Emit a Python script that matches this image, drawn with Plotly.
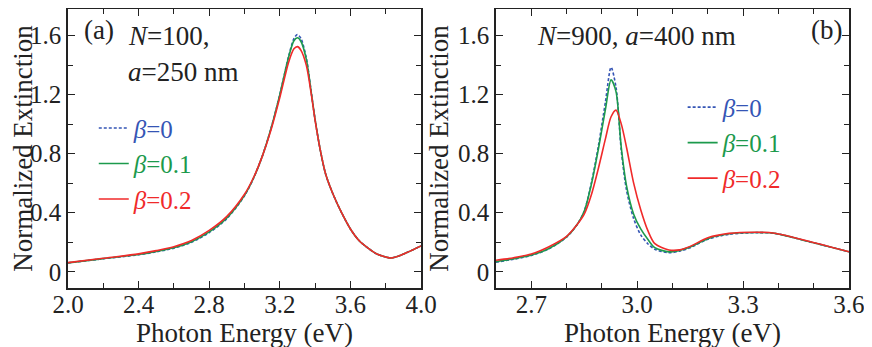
import plotly.graph_objects as go

# ---- panel (a): N=100, a=250 nm ----
xa = [2.0, 2.2, 2.4, 2.5, 2.6, 2.7, 2.8, 2.9, 3.0, 3.05, 3.1, 3.15, 3.2, 3.25, 3.28, 3.3,
      3.32, 3.35, 3.38, 3.4, 3.43, 3.46, 3.5, 3.55, 3.6, 3.65, 3.7, 3.75, 3.8, 3.83, 3.87, 3.92, 4.0]
a_b0 = [0.06, 0.088, 0.115, 0.135, 0.16, 0.2, 0.265, 0.36, 0.515, 0.63, 0.78, 0.97, 1.2, 1.46, 1.58, 1.607,
        1.58, 1.45, 1.2, 1.03, 0.82, 0.66, 0.53, 0.4, 0.29, 0.21, 0.16, 0.12, 0.1, 0.093, 0.105, 0.13, 0.175]
a_b1 = [0.06, 0.089, 0.117, 0.138, 0.163, 0.204, 0.27, 0.365, 0.518, 0.632, 0.78, 0.97, 1.2, 1.455, 1.565, 1.585,
        1.56, 1.44, 1.2, 1.03, 0.82, 0.66, 0.53, 0.4, 0.29, 0.21, 0.16, 0.12, 0.1, 0.093, 0.105, 0.13, 0.175]
a_b2 = [0.062, 0.091, 0.121, 0.143, 0.17, 0.212, 0.28, 0.375, 0.525, 0.635, 0.78, 0.96, 1.18, 1.42, 1.51, 1.525,
        1.5, 1.4, 1.19, 1.025, 0.82, 0.66, 0.53, 0.4, 0.29, 0.21, 0.16, 0.12, 0.1, 0.093, 0.105, 0.13, 0.175]

# ---- panel (b): N=900, a=400 nm ----
xb = [2.6, 2.65, 2.7, 2.75, 2.8, 2.83, 2.85, 2.87, 2.89, 2.91, 2.926, 2.94, 2.955, 2.97, 2.99,
      3.01, 3.03, 3.05, 3.09, 3.12, 3.15, 3.2, 3.26, 3.34, 3.39, 3.48, 3.6]
b_b0 = [0.065, 0.085, 0.11, 0.155, 0.235, 0.32, 0.41, 0.6, 0.85, 1.15, 1.385, 1.25, 0.82, 0.55, 0.36,
        0.25, 0.19, 0.152, 0.129, 0.14, 0.163, 0.22, 0.254, 0.265, 0.26, 0.208, 0.135]
b_b1 = [0.068, 0.088, 0.113, 0.158, 0.237, 0.32, 0.41, 0.59, 0.83, 1.1, 1.3, 1.22, 0.84, 0.58, 0.39,
        0.29, 0.22, 0.163, 0.135, 0.145, 0.167, 0.224, 0.257, 0.266, 0.26, 0.208, 0.135]
b_b2 = [0.078, 0.095, 0.12, 0.17, 0.24, 0.32, 0.39, 0.52, 0.7, 0.9, 1.05, 1.095, 1.0, 0.84, 0.6,
        0.42, 0.28, 0.19, 0.148, 0.148, 0.172, 0.23, 0.26, 0.268, 0.261, 0.21, 0.135]

labels = ["0", "0.1", "0.2"]
colors = ["#3555b5", "#1c9a4c", "#f02a2a"]
dashes = ["3px,2px", "solid", "solid"]

y_ticks = [0, 0.4, 0.8, 1.2, 1.6]
y_ticktext = ["0", "0.4", "0.8", "1.2", "1.6"]
xa_ticks = [2.0, 2.4, 2.8, 3.2, 3.6, 4.0]
xb_ticks = [2.7, 3.0, 3.3, 3.6]

FONT = "Liberation Serif, Times New Roman, DejaVu Serif, serif"

fig = go.Figure()
for ys, xs, xax, yax, leg in [((a_b0, a_b1, a_b2), xa, "x", "y", "legend"),
                              ((b_b0, b_b1, b_b2), xb, "x2", "y2", "legend2")]:
    for yv, lab, col, d in zip(ys, labels, colors, dashes):
        name = "<span style='color:%s'><i>β</i>=%s</span>" % (col, lab)
        fig.add_trace(go.Scatter(x=xs, y=yv, mode="lines", name=name,
                                 line=dict(color=col, width=1.6, dash=d, shape="spline", smoothing=0.8),
                                 xaxis=xax, yaxis=yax, legend=leg))

axis_common = dict(showline=True, mirror="allticks", linecolor="#222", linewidth=1.5,
                   ticks="inside", ticklen=7, tickcolor="#222", tickwidth=1.3,
                   showgrid=False, zeroline=False, automargin=False,
                   tickfont=dict(family=FONT, size=25, color="#222"))
minor = dict(ticks="inside", ticklen=5, tickcolor="#222", tickwidth=1.3)
title_font = dict(family=FONT, size=27, color="#222")

# the page body adds an 8px margin, so the figure is drawn 8px smaller
fig.update_layout(
    width=864, height=340,
    margin=dict(l=60, r=23, t=1, b=60),
    plot_bgcolor="white", paper_bgcolor="white",
    font=dict(family=FONT, color="#222"),
    xaxis=dict(domain=[0, 0.452], range=[2.0, 4.0], tickvals=xa_ticks, ticktext=["%.1f" % v for v in xa_ticks],
               minor=dict(dtick=0.2, **minor), anchor="y", ticklabelstandoff=-7,
               title=dict(text="Photon Energy (eV)", font=title_font, standoff=0),
               **axis_common),
    yaxis=dict(domain=[0, 1], range=[-0.11, 1.78], tickvals=y_ticks, ticktext=y_ticktext,
               minor=dict(tick0=0, dtick=0.2, **minor), anchor="x",
               title=dict(text="Normalized Extinction", font=title_font, standoff=2),
               **axis_common),
    xaxis2=dict(domain=[0.548, 1], range=[2.6, 3.6], tickvals=xb_ticks, ticktext=["%.1f" % v for v in xb_ticks],
                minor=dict(tick0=2.6, dtick=0.1, **minor), anchor="y2", ticklabelstandoff=-7,
                title=dict(text="Photon Energy (eV)", font=title_font, standoff=0),
                **axis_common),
    yaxis2=dict(domain=[0, 1], range=[-0.11, 1.78], tickvals=y_ticks, ticktext=y_ticktext,
                minor=dict(tick0=0, dtick=0.2, **minor), anchor="x2",
                title=dict(text="Normalized Extinction", font=title_font, standoff=2),
                **axis_common),
    legend=dict(x=0.033, y=0.655, xanchor="left", yanchor="top", bgcolor="rgba(0,0,0,0)",
                font=dict(family=FONT, size=25), itemwidth=30, tracegroupgap=0),
    legend2=dict(x=0.787, y=0.73, xanchor="left", yanchor="top", bgcolor="rgba(0,0,0,0)",
                 font=dict(family=FONT, size=25), itemwidth=30, tracegroupgap=0),
    showlegend=True,
)

ann_font = dict(family=FONT, size=27, color="#222")
fig.add_annotation(text="(a)", xref="x domain", yref="y domain", x=0.04, y=0.985,
                   xanchor="left", yanchor="top", showarrow=False, font=ann_font)
fig.add_annotation(text="<i>N</i>=100,", xref="x domain", yref="y domain", x=0.165, y=0.963,
                   xanchor="left", yanchor="top", showarrow=False, font=ann_font)
fig.add_annotation(text="<i>a</i>=250 nm", xref="x domain", yref="y domain", x=0.165, y=0.835,
                   xanchor="left", yanchor="top", showarrow=False, font=ann_font)
fig.add_annotation(text="<i>N</i>=900, <i>a</i>=400 nm", xref="x2 domain", yref="y2 domain", x=0.11, y=0.963,
                   xanchor="left", yanchor="top", showarrow=False, font=ann_font)
fig.add_annotation(text="(b)", xref="x2 domain", yref="y2 domain", x=0.985, y=0.985,
                   xanchor="right", yanchor="top", showarrow=False, font=ann_font)

fig.write_html("out.html")
